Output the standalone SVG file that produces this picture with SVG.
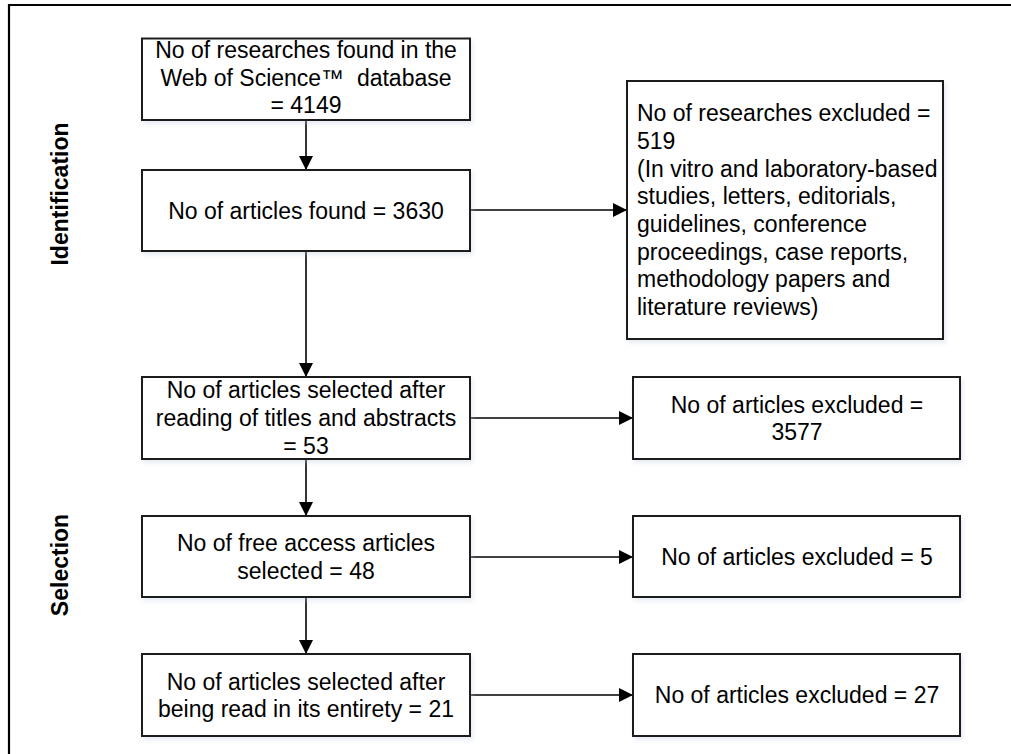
<svg xmlns="http://www.w3.org/2000/svg" width="1011" height="754" viewBox="0 0 1011 754">
  <defs>
    <style>
      .box { fill: #fff; stroke: #1a1a1a; stroke-width: 2; filter: url(#sh); }
      .t { font-family: "Liberation Sans", Arial, sans-serif; font-size: 23px; fill: #000; }
      .c { text-anchor: middle; }
      .lbl { font-family: "Liberation Sans", Arial, sans-serif; font-size: 23px; font-weight: bold; fill: #000; text-anchor: middle; }
      .conn { stroke: #000; stroke-width: 1.6; fill: none; marker-end: url(#ah); }
    </style>
    <filter id="sh" x="-5%" y="-5%" width="115%" height="120%">
      <feDropShadow dx="2" dy="3" stdDeviation="2" flood-color="#b8c8e0" flood-opacity="0.35"/>
    </filter>
    <marker id="ah" markerWidth="14" markerHeight="14" refX="14" refY="7" orient="auto" markerUnits="userSpaceOnUse">
      <path d="M0,0 L14,7 L0,14 z" fill="#000"/>
    </marker>
  </defs>
  <rect width="1011" height="754" fill="#fff"/>
  <path d="M9,760 V5 H1020" fill="none" stroke="#000" stroke-width="2.2"/>

  <text class="lbl" transform="translate(68,194) rotate(-90)">Identification</text>
  <text class="lbl" transform="translate(68,565) rotate(-90)">Selection</text>

  <g id="connectors">
    <line class="conn" x1="306" y1="120" x2="306" y2="170"/>
    <line class="conn" x1="306" y1="251" x2="306" y2="377"/>
    <line class="conn" x1="306" y1="459" x2="306" y2="516"/>
    <line class="conn" x1="306" y1="597" x2="306" y2="654"/>
    <line class="conn" x1="470" y1="210" x2="627" y2="210"/>
    <line class="conn" x1="470" y1="418" x2="633" y2="418"/>
    <line class="conn" x1="470" y1="557" x2="633" y2="557"/>
    <line class="conn" x1="470" y1="695" x2="633" y2="695"/>
  </g>

  <g id="n1">
    <rect class="box" x="142" y="38.5" width="328" height="81.5"/>
    <text class="t c" x="306" y="58">No of researches found in the</text>
    <text class="t c" x="306" y="86">Web of Science™&#160; database</text>
    <text class="t c" x="306" y="113">= 4149</text>
  </g>
  <g id="n2">
    <rect class="box" x="142" y="170" width="328" height="81"/>
    <text class="t c" x="306" y="218.5">No of articles found = 3630</text>
  </g>
  <g id="n3">
    <rect class="box" x="142" y="377" width="328" height="82"/>
    <text class="t c" x="306" y="398">No of articles selected after</text>
    <text class="t c" x="306" y="426">reading of titles and abstracts</text>
    <text class="t c" x="306" y="454">= 53</text>
  </g>
  <g id="n4">
    <rect class="box" x="142" y="516" width="328" height="81"/>
    <text class="t c" x="306" y="551">No of free access articles</text>
    <text class="t c" x="306" y="578.5">selected = 48</text>
  </g>
  <g id="n5">
    <rect class="box" x="142" y="654" width="328" height="82"/>
    <text class="t c" x="306" y="690">No of articles selected after</text>
    <text class="t c" x="306" y="717">being read in its entirety = 21</text>
  </g>

  <g id="r1">
    <rect class="box" x="627" y="81" width="316" height="258"/>
    <text class="t" x="637" y="121">No of researches excluded =</text>
    <text class="t" x="637" y="148.5">519</text>
    <text class="t" x="637" y="176.5">(In vitro and laboratory-based</text>
    <text class="t" x="637" y="204">studies, letters, editorials,</text>
    <text class="t" x="637" y="231.5">guidelines, conference</text>
    <text class="t" x="637" y="259.5">proceedings, case reports,</text>
    <text class="t" x="637" y="287">methodology papers and</text>
    <text class="t" x="637" y="314.5">literature reviews)</text>
  </g>
  <g id="r2">
    <rect class="box" x="633" y="377" width="327" height="82"/>
    <text class="t c" x="797" y="412.5">No of articles excluded =</text>
    <text class="t c" x="797" y="440">3577</text>
  </g>
  <g id="r3">
    <rect class="box" x="633" y="516" width="327" height="81"/>
    <text class="t c" x="797" y="564.5">No of articles excluded = 5</text>
  </g>
  <g id="r4">
    <rect class="box" x="633" y="654" width="327" height="82"/>
    <text class="t c" x="797" y="702.5">No of articles excluded = 27</text>
  </g>
</svg>
